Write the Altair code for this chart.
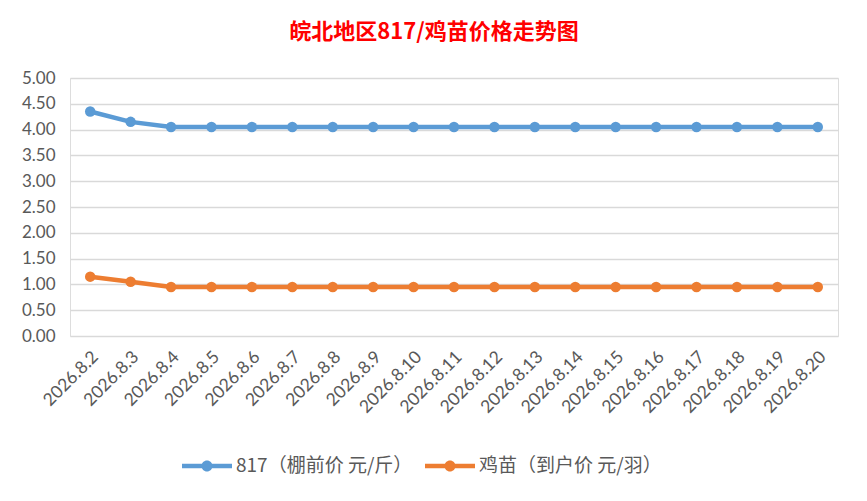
import altair as alt
import pandas as pd

dates = ["2026.8.2", "2026.8.3", "2026.8.4", "2026.8.5", "2026.8.6", "2026.8.7",
         "2026.8.8", "2026.8.9", "2026.8.10", "2026.8.11", "2026.8.12", "2026.8.13",
         "2026.8.14", "2026.8.15", "2026.8.16", "2026.8.17", "2026.8.18", "2026.8.19",
         "2026.8.20"]
s817 = [4.35, 4.15, 4.05, 4.05, 4.05, 4.05, 4.05, 4.05, 4.05, 4.05, 4.05, 4.05,
        4.05, 4.05, 4.05, 4.05, 4.05, 4.05, 4.05]
chick = [1.15, 1.05, 0.95, 0.95, 0.95, 0.95, 0.95, 0.95, 0.95, 0.95, 0.95, 0.95,
         0.95, 0.95, 0.95, 0.95, 0.95, 0.95, 0.95]
series_names = ["817（棚前价 元/斤）", "鸡苗（到户价 元/羽）"]
colors = ["#5B9BD5", "#ED7D31"]

rows = []
for d, a, b in zip(dates, s817, chick):
    rows.append({"date": d, "series": series_names[0], "value": a})
    rows.append({"date": d, "series": series_names[1], "value": b})
df = pd.DataFrame(rows)

label_font = "Lato"
cjk = "Noto Sans CJK SC"

x = alt.X("date:N", sort=dates, title=None,
          scale=alt.Scale(paddingInner=0, paddingOuter=0.5, align=0.5),
          axis=alt.Axis(labelAngle=-45, labelFont=label_font, labelFontSize=17.5,
                        labelColor="#595959", ticks=False, domain=False, grid=False,
                        labelPadding=18, labelOffset=5, labelAlign="right",
                        labelBaseline="middle"))
y = alt.Y("value:Q", title=None,
          scale=alt.Scale(domain=[0, 5]),
          axis=alt.Axis(values=[0, 0.5, 1, 1.5, 2, 2.5, 3, 3.5, 4, 4.5, 5], format=".2f",
                        labelFont=label_font, labelFontSize=17, labelColor="#595959",
                        ticks=False, domain=False, gridColor="#D9D9D9", gridWidth=1.3,
                        labelPadding=15))

legend = alt.Legend(
    title=None, orient="none", direction="horizontal",
    legendX=112, legendY=363,
    symbolType="M-1,-0.09H1V0.09H-1Z M0.22,0 A0.22,0.22 0 1,1 -0.22,0 A0.22,0.22 0 1,1 0.22,0 Z",
    symbolSize=2500, symbolStrokeWidth=0, symbolOpacity=1,
    labelFont=cjk, labelFontSize=19, labelColor="#595959",
    labelOffset=4, columnPadding=12, labelLimit=400)

color = alt.Color("series:N", sort=series_names,
                  scale=alt.Scale(domain=series_names, range=colors), legend=legend)

lines = alt.Chart(df).mark_line(strokeWidth=4.5).encode(x=x, y=y, color=color)
pts = alt.Chart(df).mark_point(filled=True, size=110, opacity=1).encode(x=x, y=y, color=color)

chart = (lines + pts).properties(
    width=768, height=258,
    title=alt.TitleParams("皖北地区817/鸡苗价格走势图", font=cjk, fontSize=22,
                          fontWeight="bold", color="#FF0000", anchor="middle",
                          dx=-20, offset=25),
    padding={"left": 62, "top": 70, "right": 21, "bottom": 157},
    autosize=alt.AutoSizeParams(type="none"),
).configure_view(stroke=None).configure(background="white")

chart.save("out.html", embed_options={"renderer": "svg", "actions": False})
